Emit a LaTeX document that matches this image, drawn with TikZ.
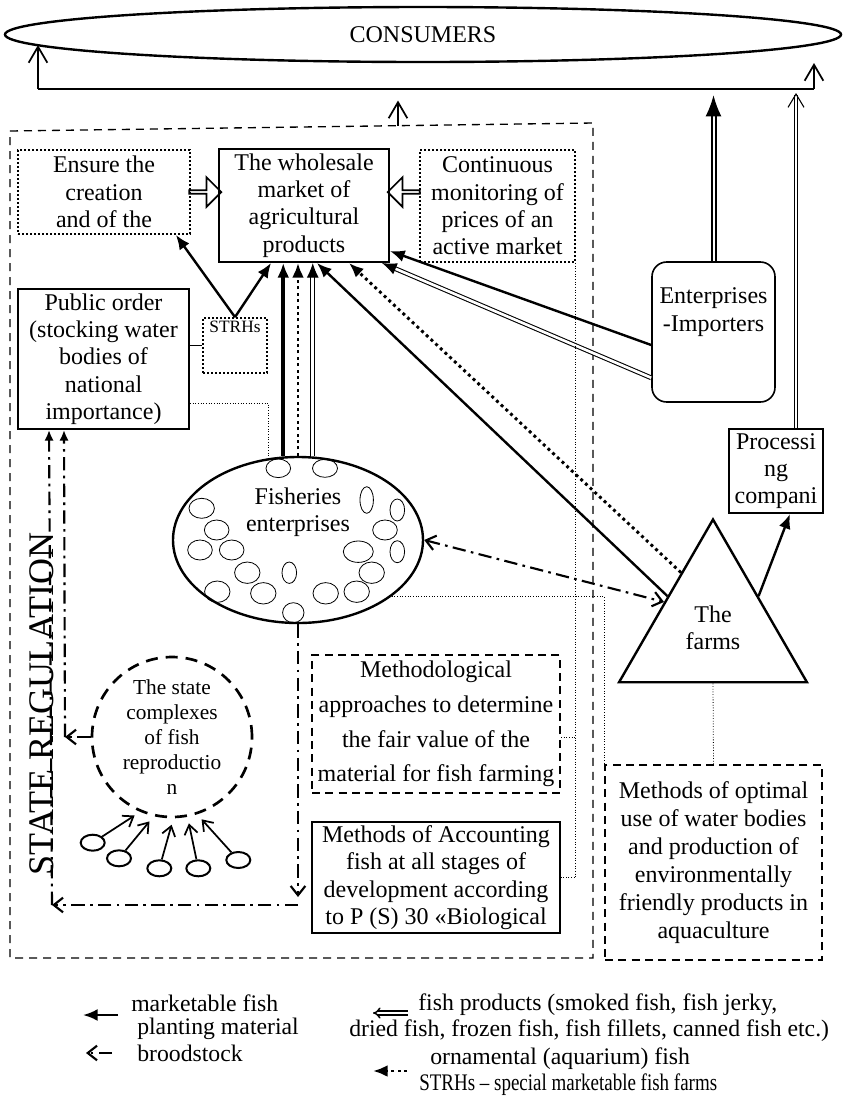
\documentclass[tikz,border=0pt]{standalone}
\usepackage{fontspec}
\setmainfont{Liberation Serif}
\usetikzlibrary{arrows.meta, shapes.geometric, shapes.arrows, calc}

\newcommand{\px}{0.75pt}
\tikzset{
  txt/.style={font=\fontsize{18}{20.5}\selectfont, align=center, inner sep=0pt},
  lgd/.style={font=\fontsize{17.8}{16}\selectfont, inner sep=0pt, anchor=west},
  solidbox/.style={txt, draw, line width=1.5pt},
  dotbox/.style={txt, draw, line width=1.3pt, dash pattern=on 1.4pt off 1.6pt},
  dashbox/.style={txt, draw, line width=1.5pt, dash pattern=on 6pt off 4pt},
  thindot/.style={line width=0.6pt, dash pattern=on 0.6pt off 1.4pt},
  mkt/.style={line width=1.8pt, -{Latex[length=11pt,width=9pt]}},
  orn/.style={line width=2.2pt, dash pattern=on 2.2pt off 2.6pt, -{Latex[length=11pt,width=9pt]}},
  prod/.style={double, line width=0.8pt, double distance=2pt, -{Latex[length=11pt,width=9pt]}},
  brood/.style={line width=1.6pt, dash pattern=on 10pt off 4pt on 2pt off 4pt, -{Straight Barb[length=7pt,width=11pt]}},
  upto/.style={line width=1.3pt, -{Straight Barb[length=12pt,width=14pt]}},
  blockarr/.style={single arrow, draw, line width=1.3pt, minimum height=24pt, minimum width=22pt, single arrow head extend=5pt, inner sep=0pt},
}

\begin{document}
\begin{tikzpicture}[x=\px, y=-\px]
    \useasboundingbox (0,0) rectangle (844,1097);

    % consumers and the collecting bar
    \node[draw, ellipse, line width=1.8pt, minimum width=836*\px, minimum height=55*\px, txt] (cons) at (423,34.5) {CONSUMERS};
    \coordinate (barL) at (38,89);
    \coordinate (barR) at (814,89);
    \coordinate (regtop) at (398,125.5);
    \coordinate (t1) at (0,95);
    \coordinate (t2) at (0,93);
    \draw[line width=1.3pt] (barL) -- (barR);
    \draw[upto] (barL) -- ++(0,-44);
    \draw[upto] (barR) -- ++(0,-26);
    \draw[upto] (regtop) -- ++(0,-25);

    % state regulation area
    \draw[line width=1pt, dash pattern=on 6pt off 4.5pt] (10,131) -- (593,123) -- (593,958) -- (10,958) -- cycle;
    \node[font=\fontsize{27}{30}\selectfont, rotate=90, anchor=base, inner sep=0pt] (streg) at (53,704) {STATE REGULATION};

    % boxes
    \node[dotbox, minimum width=172*\px, minimum height=84*\px] (ensure) at (104,192) {Ensure the\\creation\\and of the};
    \node[solidbox, minimum width=170*\px, minimum height=113*\px] (market) at (304,205.5) {The wholesale\\market of\\agricultural\\products};
    \node[dotbox, minimum width=155*\px, minimum height=112*\px] (cont) at (497.5,206) {Continuous\\monitoring of\\prices of an\\active market};
    \node[solidbox, minimum width=171*\px, minimum height=140*\px] (pub) at (103.5,359) {Public order\\(stocking water\\bodies of\\national\\importance)};
    \node[dotbox, minimum width=64*\px, minimum height=55*\px, label={[font=\fontsize{13}{15}\selectfont, anchor=north, inner sep=3pt]north:STRHs}] (strh) at (235,345.5) {};
    \node[draw, rounded corners=11pt, line width=1.2pt, minimum width=123*\px, minimum height=140*\px] (imp) at (713.5,332) {};
    \node[txt] (implbl) at (713.5,312) {Enterprises\\-Importers};
    \node[solidbox, minimum width=94*\px, minimum height=84*\px] (proc) at (776,471) {Processi\\ng\\compani};
    \node[dashbox, font=\fontsize{18}{26}\selectfont, minimum width=248*\px, minimum height=138*\px] (meth) at (436,724) {Methodological\\approaches to determine\\the fair value of the\\material for fish farming};
    \node[solidbox, minimum width=248*\px, minimum height=111*\px] (acc) at (436,877.5) {Methods of Accounting\\fish at all stages of\\development according\\to P (S) 30 «Biological};
    \node[dashbox, font=\fontsize{18}{21}\selectfont, minimum width=217*\px, minimum height=195*\px] (opt) at (713.5,862.5) {Methods of optimal\\use of water bodies\\and production of\\environmentally\\friendly products in\\aquaculture};

    % fisheries enterprises
    \node[draw, ellipse, line width=1.8pt, minimum width=250*\px, minimum height=166*\px] (fish) at (298,540) {};
    \node[txt] (fishlbl) at (298,512) {Fisheries\\enterprises};
    \foreach \x/\y/\rx/\ry in {278.3/468.3/12.3/9.3, 325/468.3/12.5/9, 366.7/500/6.7/13.3, 201.7/508.3/12.7/10,
        397.3/510/7.3/11, 216.7/530/12.3/10, 385/530/12.3/10, 200/550/12.3/10, 231.7/550/12.3/10,
        358.3/551.7/15/10.7, 397.3/551.7/7.3/11, 247.3/572.7/12.7/10.7, 289.3/572.7/7.3/10.7,
        371.7/572.7/12.7/10.7, 217.3/591.7/12.7/10.7, 263.3/593.3/12.7/10.7, 325.7/593.3/12.7/10.7,
        356.7/591.7/12.7/10.7, 293.3/612.7/10.7/10}
        \draw[line width=0.6pt] (\x,\y) ellipse [x radius=\rx, y radius=\ry];

    % farms
    \node[draw, regular polygon, regular polygon sides=3, line width=1.8pt, minimum size=217*\px, txt] (farm) at (713,628) {The\\farms};

    % state complexes of fish reproduction
    \node[draw, circle, line width=2pt, dash pattern=on 9pt off 6pt, minimum size=160*\px, align=center, inner sep=0pt, font=\fontsize{16}{18.75}\selectfont] (cplx) at (172,737) {The state\\complexes\\of fish\\reproductio\\n};
    \foreach \n/\x/\y/\a in {1/92.7/842.7/-113.6, 2/119/858.3/-103.8, 3/159.3/868.3/-89.2, 4/198.3/868.3/-79.7, 5/238.3/860/-72} {
        \node[draw, ellipse, line width=1.5pt, minimum width=24*\px, minimum height=16*\px, inner sep=0pt] (sf\n) at (\x,\y) {};
        \draw[line width=1.3pt, -{Straight Barb[length=7pt,width=10pt]}, shorten >=5pt] (sf\n) -- (cplx.\a);
    }

    % block arrows into the market
    \node[blockarr] (ba1) at ($(ensure.east)!0.5!(ensure.east -| market.west)$) {};
    \node[blockarr, shape border rotate=180] (ba2) at ($(ensure.east -| market.east)!0.5!(ensure.east -| cont.west)$) {};

    % flows to the market
    \draw[line width=0.8pt] (strh.west -| pub.east) -- (strh.west);
    \draw[mkt] (strh.north) -- ($(ensure.south east)+(-15,0)$);
    \draw[mkt] (strh.north) -- ($(market.south west)+(53,0)$);
    \draw[mkt, line width=3pt] (fish.100) -- (fish.100 |- market.south);
    \draw[orn] (fish.north) -- (fish.north |- market.south);
    \draw[prod] (fish.80) -- (fish.80 |- market.south);
    \draw[mkt] (farm.145) -- ($(market.south west)+(99,0)$);
    \draw[orn] (farm.120) -- ($(market.south west)+(131,0)$);
    \draw[prod] ($(imp.south west)+(0,-25)$) -- ($(market.south west)+(164,0)$);
    \draw[mkt] ($(imp.west)+(0,13)$) -- ($(market.south east)+(0,-12)$);
    \draw[mkt] (farm.35) -- ($(proc.south)+(14,0)$);

    % flows to consumers
    \coordinate (pn) at ($(proc.north east)+(-28,0)$);
    \draw[double, line width=1.5pt, double distance=1.5pt, -{Latex[length=16pt,width=12pt]}] (imp.north) -- (imp.north |- t1);
    \draw[double, line width=0.8pt, double distance=2pt, -{Straight Barb[length=10pt,width=12pt]}] (pn) -- (pn |- t2);

    % broodstock
    \draw[brood, {Straight Barb[length=7pt,width=11pt]}-{Straight Barb[length=7pt,width=11pt]}] (fish.east) -- (farm.152);
    \coordinate (bc1) at (65,737);
    \coordinate (bc2) at (298,905);
    \coordinate (bc3) at (52,905);
    \draw[brood] (cplx.west) -- (bc1);
    \draw[brood, -{Latex[length=8pt,width=7pt]}] (bc1) -- ($(pub.south west)+(47,0)$);
    \draw[brood, shorten >=6pt] (fish.south) -- (bc2);
    \draw[brood] (bc2) -- (bc3);
    \draw[brood, -{Latex[length=8pt,width=7pt]}] (bc3) -- ($(pub.south west)+(32,0)$);

    % thin dotted links
    \coordinate (mr) at ($(meth.east)+(0,13)$);
    \draw[thindot] ($(pub.south east)+(0,-27)$) -| (fish.110);
    \draw[thindot] (cont.south east) |- (acc.east);
    \draw[thindot] (mr) -- (mr -| cont.south east);
    \draw[thindot] (fish.-31) -| (opt.north west);
    \draw[thindot] (farm.south) -- (opt.north);

    % legend
    \node[lgd] (lgMkt) at (131,1003) {marketable fish};
    \node[lgd] (lgPlant) at (137,1029) {planting material};
    \node[lgd] (lgBrood) at (137,1053) {broodstock};
    \node[lgd] (lgProd) at (418,1005) {fish products (smoked fish, fish jerky,};
    \node[lgd] (lgProd2) at (349,1031) {dried fish, frozen fish, fish fillets, canned fish etc.)};
    \node[lgd] (lgOrn) at (430,1059) {ornamental (aquarium) fish};
    \node[lgd] (lgStrh) at (419,1085) {\scalebox{0.8}[1]{STRHs -- special marketable fish farms}};
    \draw[mkt] ($(lgMkt.west)+(-13,12)$) -- ++(-35,0);
    \draw[brood] ($(lgBrood.west)+(-25,0)$) -- ++(-26,0);
    \draw[double, line width=1.1pt, double distance=1.6pt, -{Implies}] ($(lgProd.west)+(-10,8)$) -- ++(-35,0);
    \draw[orn] ($(lgOrn.west)+(-23,12)$) -- ++(-34,0);

\end{tikzpicture}
\end{document}
